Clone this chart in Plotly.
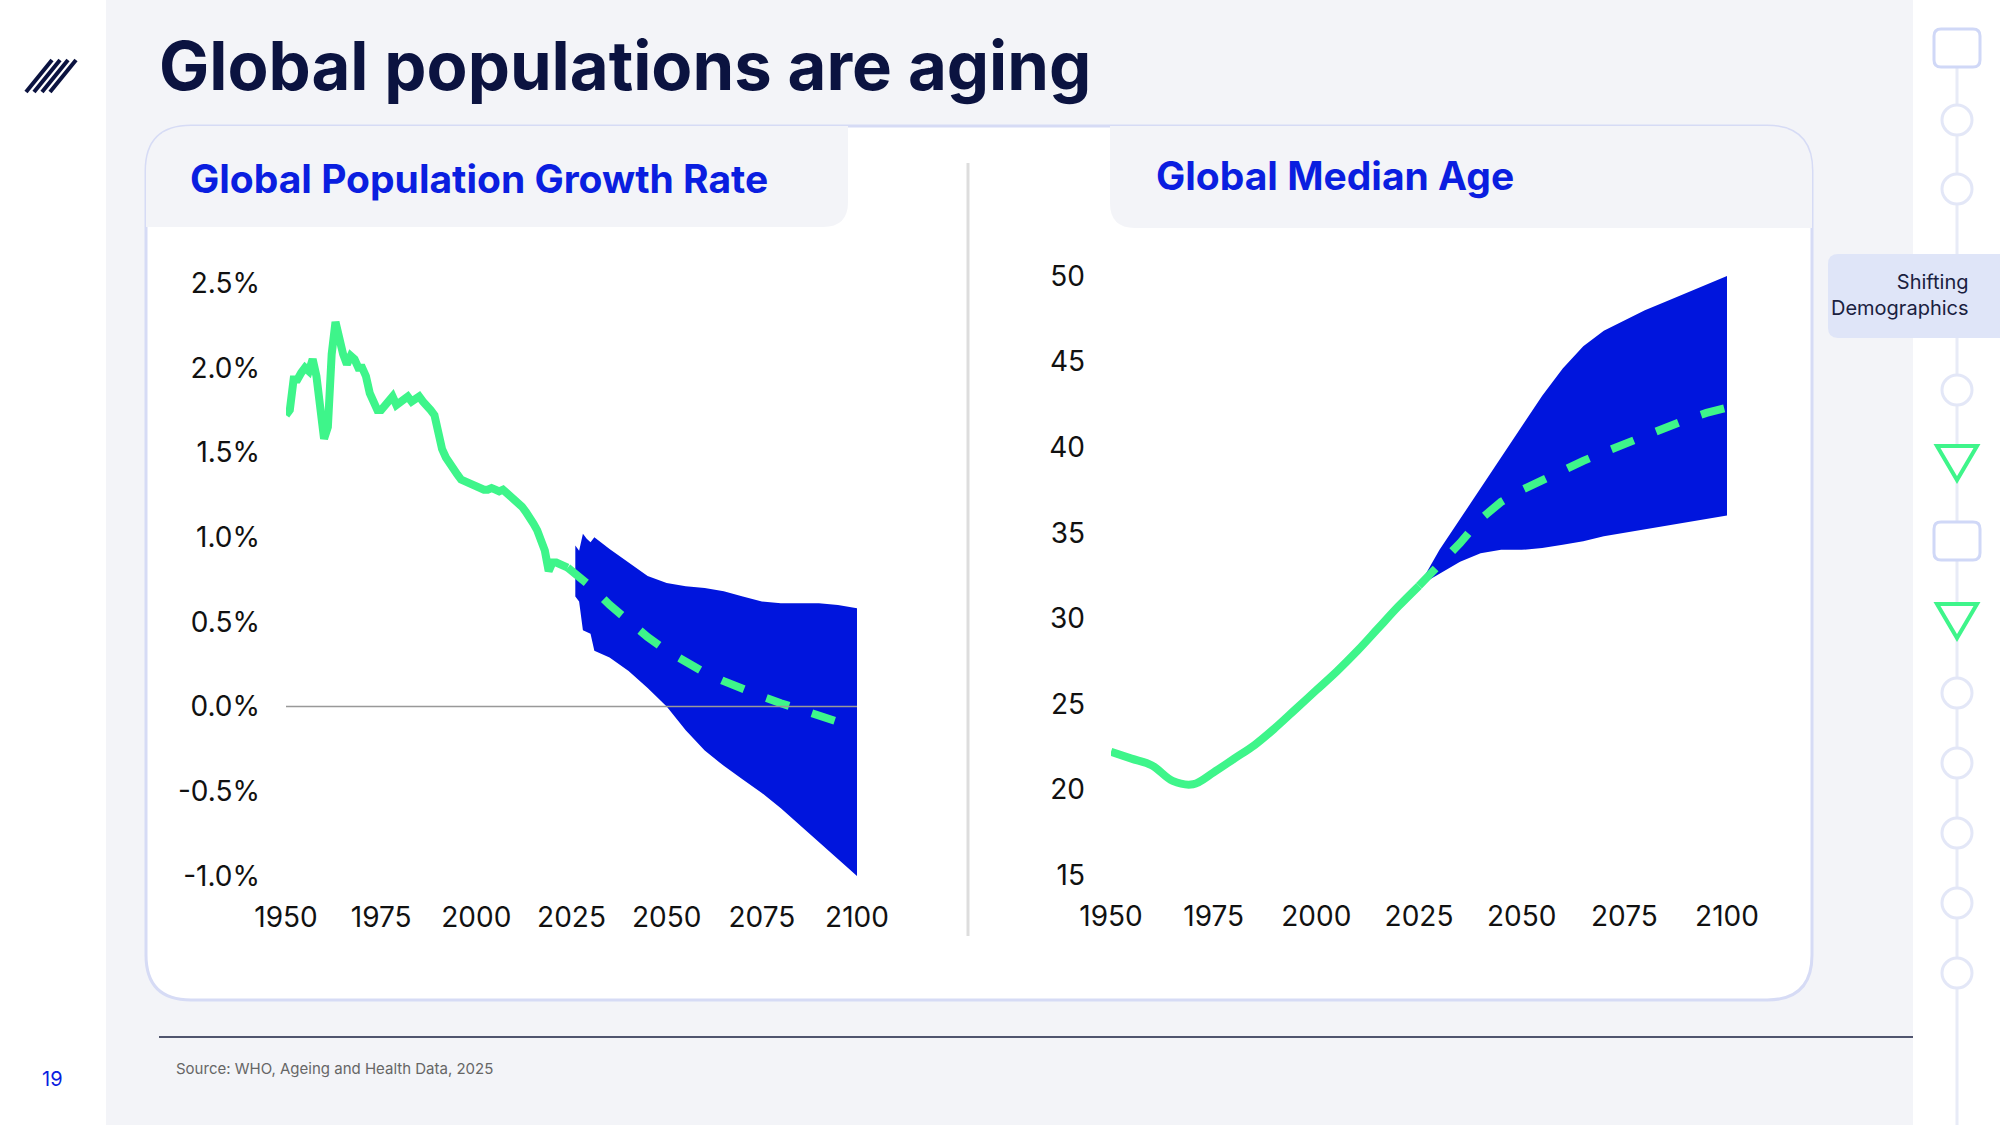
import plotly.graph_objects as go
import re

# ---- data ----
growth_years = list(range(1950, 2025))
growth_hist = [1.72,1.75,1.93,1.93,1.97,2.00,1.98,2.05,1.95,1.70,1.58,1.65,2.08,2.27,2.15,2.08,2.02,2.07,2.05,2.00,
               2.00,1.95,1.85,1.80,1.75,1.75,1.78,1.80,1.83,1.78,1.80,1.82,1.83,1.80,1.82,1.83,1.80,1.78,1.75,1.72,
               1.60,1.52,1.47,1.43,1.40,1.37,1.34,1.33,1.31,1.30,1.29,1.28,1.28,1.28,1.29,1.28,1.27,1.28,1.26,1.24,
               1.23,1.20,1.18,1.15,1.12,1.08,1.04,0.98,0.92,0.80,0.85,0.85,0.84,0.83,0.82]
growth_proj_years = [2024,2030,2035,2040,2045,2050,2055,2060,2065,2070,2075,2080,2085,2090,2095,2100]
growth_proj = [0.82,0.71,0.60,0.50,0.41,0.33,0.26,0.20,0.15,0.10,0.06,0.02,-0.02,-0.05,-0.09,-0.12]
growth_band_years = [2026,2027,2028,2029,2030,2031,2035,2040,2045,2050,2055,2060,2065,2070,2075,2080,2085,2090,2095,2100]
growth_upper = [0.95,0.92,1.02,0.99,0.97,1.00,0.93,0.85,0.77,0.73,0.71,0.70,0.68,0.65,0.62,0.61,0.61,0.61,0.60,0.58]
growth_lower = [0.65,0.62,0.45,0.44,0.43,0.33,0.29,0.21,0.11,0.00,-0.14,-0.26,-0.35,-0.43,-0.51,-0.60,-0.70,-0.80,-0.90,-1.00]

age_years = [1950,1955,1960,1965,1970,1975,1980,1985,1990,1995,2000,2005,2010,2015,2020,2025]
age_hist = [22.2,21.8,21.4,20.5,20.3,21.0,21.8,22.6,23.6,24.7,25.8,26.9,28.1,29.4,30.7,31.9]
age_proj_years = [2025,2030,2035,2040,2045,2050,2055,2060,2065,2070,2075,2080,2085,2090,2095,2100]
age_proj = [31.9,33.1,34.4,35.8,36.8,37.5,38.1,38.6,39.2,39.7,40.2,40.7,41.2,41.6,42.0,42.3]
age_upper = [31.9,34.0,35.8,37.6,39.4,41.2,43.0,44.6,45.9,46.8,47.4,48.0,48.5,49.0,49.5,50.0]
age_lower = [31.9,32.6,33.3,33.8,34.0,34.0,34.1,34.3,34.5,34.8,35.0,35.2,35.4,35.6,35.8,36.0]

growth_ticks = [-1.0,-0.5,0.0,0.5,1.0,1.5,2.0,2.5]
growth_ticktext = ["-1.0%","-0.5%","0.0%","0.5%","1.0%","1.5%","2.0%","2.5%"]
age_ticks = [15,20,25,30,35,40,45,50]
year_ticks = [1950,1975,2000,2025,2050,2075,2100]

W, H = 2000, 1125
GREEN = "#3ef58a"
BLUE = "#0015dd"
def px(x): return x / W
def py(y): return 1 - y / H

fig = go.Figure()
fig.add_trace(go.Scatter(x=growth_band_years, y=growth_upper, mode="lines", line=dict(width=0, color=BLUE),
                         xaxis="x", yaxis="y", hoverinfo="skip"))
fig.add_trace(go.Scatter(x=growth_band_years, y=growth_lower, mode="lines", line=dict(width=0, color=BLUE),
                         fill="tonexty", fillcolor=BLUE, xaxis="x", yaxis="y"))
fig.add_trace(go.Scatter(x=growth_years, y=growth_hist, mode="lines", line=dict(color=GREEN, width=8), xaxis="x", yaxis="y"))
fig.add_trace(go.Scatter(x=growth_proj_years, y=growth_proj, mode="lines", line=dict(color=GREEN, width=8, dash="dash"), xaxis="x", yaxis="y"))

fig.add_trace(go.Scatter(x=age_proj_years, y=age_upper, mode="lines", line=dict(width=0, color=BLUE), xaxis="x2", yaxis="y2"))
fig.add_trace(go.Scatter(x=age_proj_years, y=age_lower, mode="lines", line=dict(width=0, color=BLUE),
                         fill="tonexty", fillcolor=BLUE, xaxis="x2", yaxis="y2"))
fig.add_trace(go.Scatter(x=age_years, y=age_hist, mode="lines", line=dict(color=GREEN, width=8, shape="spline"), xaxis="x2", yaxis="y2"))
fig.add_trace(go.Scatter(x=age_proj_years, y=age_proj, mode="lines", line=dict(color=GREEN, width=8, dash="dash"), xaxis="x2", yaxis="y2"))

tickfont = dict(family="Inter, Roboto, sans-serif", size=28, color="#111111")
ax_common = dict(showgrid=False, zeroline=False, showline=False, ticks="", tickfont=tickfont, fixedrange=True, automargin=False)

def rrect(x0, y0, x1, y1, r):
    return (f"M{x0+r},{y0} L{x1-r},{y0} Q{x1},{y0} {x1},{y0+r} L{x1},{y1-r} Q{x1},{y1} {x1-r},{y1} "
            f"L{x0+r},{y1} Q{x0},{y1} {x0},{y1-r} L{x0},{y0+r} Q{x0},{y0} {x0+r},{y0} Z")
def topath(d):
    s = ""
    for t in re.findall(r"[MLQZ]|-?\d+\.?\d*,-?\d+\.?\d*", d):
        if t in "MLQZ":
            s += t
        else:
            a, b = t.split(",")
            s += f"{px(float(a)):.5f},{py(float(b)):.5f} "
    return s

shapes = []
shapes.append(dict(type="rect", xref="paper", yref="paper", x0=0, x1=1, y0=0, y1=1, fillcolor="#f3f4f8", line_width=0, layer="below"))
shapes.append(dict(type="rect", xref="paper", yref="paper", x0=0, x1=px(106), y0=0, y1=1, fillcolor="white", line_width=0, layer="below"))
shapes.append(dict(type="rect", xref="paper", yref="paper", x0=px(1913), x1=1, y0=0, y1=1, fillcolor="white", line_width=0, layer="below"))
shapes.append(dict(type="path", xref="paper", yref="paper", path=topath(rrect(146, 126, 1812, 1000, 45)),
                   fillcolor="white", line=dict(color="#d6dbf5", width=3), layer="below"))
shapes.append(dict(type="path", xref="paper", yref="paper", path=topath(
    "M146,171 Q146,126 191,126 L848,126 L848,202 Q848,227 823,227 L146,227 Z"), fillcolor="#f3f4f8", line_width=0, layer="below"))
shapes.append(dict(type="path", xref="paper", yref="paper", path=topath(
    "M1110,126 L1767,126 Q1812,126 1812,171 L1812,228 L1135,228 Q1110,228 1110,203 Z"), fillcolor="#f3f4f8", line_width=0, layer="below"))
shapes.append(dict(type="line", xref="paper", yref="paper", x0=px(968), x1=px(968), y0=py(163), y1=py(936), line=dict(color="#dddddd", width=3)))
shapes.append(dict(type="line", xref="x", yref="y", x0=1950, x1=2100, y0=0, y1=0, line=dict(color="#999999", width=1.5), layer="above"))
shapes.append(dict(type="line", xref="paper", yref="paper", x0=px(159), x1=px(1913), y0=py(1037), y1=py(1037), line=dict(color="#1a2140", width=1.5)))
shapes.append(dict(type="path", xref="paper", yref="paper", path=topath(
    "M1838,254 L2000,254 L2000,338 L1838,338 Q1828,338 1828,328 L1828,264 Q1828,254 1838,254 Z"), fillcolor="#dfe5f8", line_width=0))
shapes.append(dict(type="line", xref="paper", yref="paper", x0=px(1957), x1=px(1957), y0=py(60), y1=py(1125), line=dict(color="#e8ebf7", width=3), layer="below"))
for cy in [120, 189, 390, 693, 763, 833, 903, 973]:
    shapes.append(dict(type="circle", xref="paper", yref="paper", x0=px(1942), x1=px(1972), y0=py(cy+15), y1=py(cy-15),
                       fillcolor="white", line=dict(color="#e3e7f7", width=3)))
for cy in [48, 541]:
    shapes.append(dict(type="path", xref="paper", yref="paper", path=topath(rrect(1934, cy-19, 1980, cy+19, 7)),
                       fillcolor="white", line=dict(color="#d0d8f7", width=3)))
for cy in [462, 620]:
    shapes.append(dict(type="path", xref="paper", yref="paper",
                       path=topath(f"M1937,{cy-16} L1977,{cy-16} L1957,{cy+18} Z"), fillcolor="white", line=dict(color=GREEN, width=4)))
for i in range(4):
    x0 = 26 + i * 8
    shapes.append(dict(type="line", xref="paper", yref="paper", x0=px(x0), x1=px(x0 + 26), y0=py(92), y1=py(60),
                       line=dict(color="#0b1340", width=4)))

annotations = [
    dict(text="<b>Global populations are aging</b>", x=px(157), y=py(66), xref="paper", yref="paper", xanchor="left", yanchor="middle",
         showarrow=False, font=dict(family="Inter, sans-serif", size=67, color="#0b1340")),
    dict(text="<b>Global Population Growth Rate</b>", x=px(188), y=py(179), xref="paper", yref="paper", xanchor="left", yanchor="middle",
         showarrow=False, font=dict(family="Inter, sans-serif", size=39, color="#0a1ee0")),
    dict(text="<b>Global Median Age</b>", x=px(1154), y=py(176), xref="paper", yref="paper", xanchor="left", yanchor="middle",
         showarrow=False, font=dict(family="Inter, sans-serif", size=39, color="#0a1ee0")),
    dict(text="Shifting<br>Demographics", x=px(1971), y=py(295), xref="paper", yref="paper", xanchor="right", yanchor="middle", align="right",
         showarrow=False, font=dict(family="Inter, sans-serif", size=20, color="#1a2140")),
    dict(text="Source: WHO, Ageing and Health Data, 2025", x=px(174), y=py(1068), xref="paper", yref="paper", xanchor="left", yanchor="middle",
         showarrow=False, font=dict(family="Inter, sans-serif", size=15, color="#666666")),
    dict(text="19", x=px(52), y=py(1079), xref="paper", yref="paper", xanchor="center", yanchor="middle",
         showarrow=False, font=dict(family="Inter, sans-serif", size=20, color="#0a1ee0")),
]

fig.update_layout(
    width=W, height=H, margin=dict(l=0, r=0, t=0, b=0, pad=0, autoexpand=False), showlegend=False,
    paper_bgcolor="white", plot_bgcolor="rgba(0,0,0,0)",
    xaxis=dict(**ax_common, domain=[px(286), px(857)], range=[1950, 2100], tickvals=year_ticks, anchor="y"),
    yaxis=dict(**ax_common, domain=[py(876), py(283)], range=[-1.0, 2.5], tickvals=growth_ticks, ticktext=growth_ticktext, anchor="x", ticklabelstandoff=25),
    xaxis2=dict(**ax_common, domain=[px(1111), px(1727)], range=[1950, 2100], tickvals=year_ticks, anchor="y2"),
    yaxis2=dict(**ax_common, domain=[py(875), py(276)], range=[15, 50], tickvals=age_ticks, anchor="x2", ticklabelstandoff=25),
    shapes=shapes, annotations=annotations,
)
fig.update_xaxes(ticklabelstandoff=22)
fig.write_html("out.html", config={"displayModeBar": False})

with open("out.html", encoding="utf-8") as f:
    html = f.read()
html = html.replace("<head>", "<head><style>html,body{margin:0;padding:0;overflow:hidden;}</style>", 1)
with open("out.html", "w", encoding="utf-8") as f:
    f.write(html)
